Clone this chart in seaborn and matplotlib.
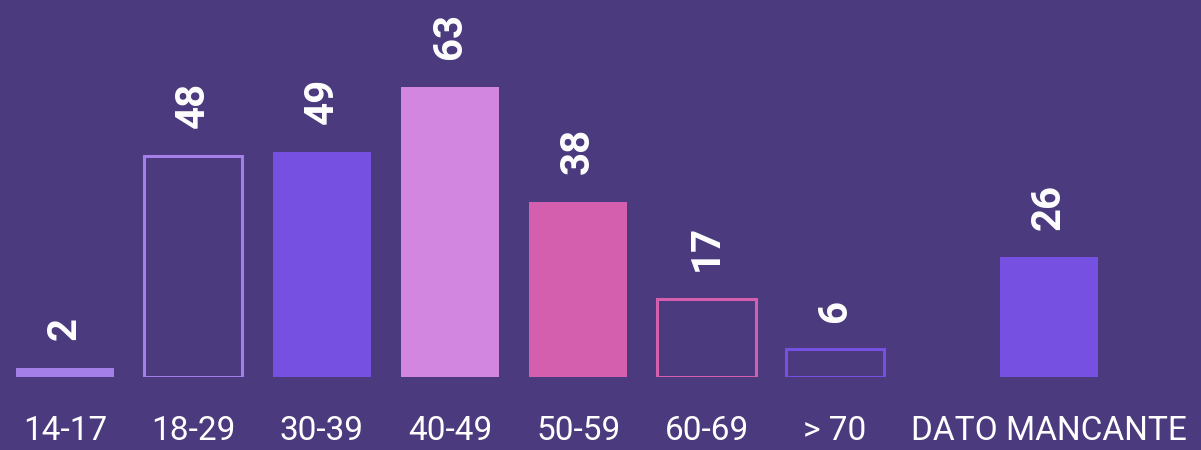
import numpy as np
import pandas as pd
import seaborn as sns
from matplotlib import pyplot as plt

# age groups and counts
age_groups = ['14-17', '18-29', '30-39', '40-49', '50-59', '60-69', '> 70', 'DATO MANCANTE']
counts = [2, 48, 49, 63, 38, 17, 6, 26]
# x slot of each bar (the last one sits a bit apart)
slots = [0, 1, 2, 3, 4, 5, 6, 7.67]

bg = '#4b3a7e'
lavender = '#a57fe8'
violet = '#7650e0'
orchid = '#d386e0'
pink = '#d35fae'
bar_colors = [lavender, lavender, violet, orchid, pink, pink, violet, violet]
hollow = [False, True, False, False, False, True, True, False]

df = pd.DataFrame({'slot': slots, 'count': counts, 'group': age_groups})

sns.set_style('white')
plt.rcParams['font.family'] = ['Roboto', 'DejaVu Sans']

fig = plt.figure(figsize=(12.01, 4.5), dpi=100, facecolor=bg)
ax = fig.add_axes([0, 73 / 450, 1, 377 / 450])
ax.set_facecolor(bg)

sns.barplot(data=df, x='slot', y='count', hue='group', palette=dict(zip(age_groups, bar_colors)),
            native_scale=True, width=0.765, dodge=False, legend=False, ax=ax, saturation=1)

# outline-only bars
for p in ax.patches:
    cx = p.get_x() + p.get_width() / 2
    i = int(np.argmin([abs(cx - s) for s in slots]))
    if hollow[i]:
        p.set_facecolor(bg)
        p.set_edgecolor(bar_colors[i])
        p.set_linewidth(2.2)
    else:
        p.set_edgecolor('none')

for s, c in zip(slots, counts):
    ax.annotate(str(c), (s, c), xytext=(0, 20), textcoords='offset points',
                rotation=90, ha='center', va='bottom', color='white',
                fontsize=29, fontweight='bold')

ax.set_xlim(-0.507, 8.854)
ax.set_ylim(0, 377 / 4.6)
ax.set_xticks(slots)
ax.set_xticklabels(age_groups, color='white', fontsize=24)
ax.tick_params(axis='x', length=0, pad=27)
ax.set_yticks([])
ax.set_xlabel('')
ax.set_ylabel('')
sns.despine(ax=ax, left=True, bottom=True)

fig.savefig('out.png', dpi=100, facecolor=bg)
